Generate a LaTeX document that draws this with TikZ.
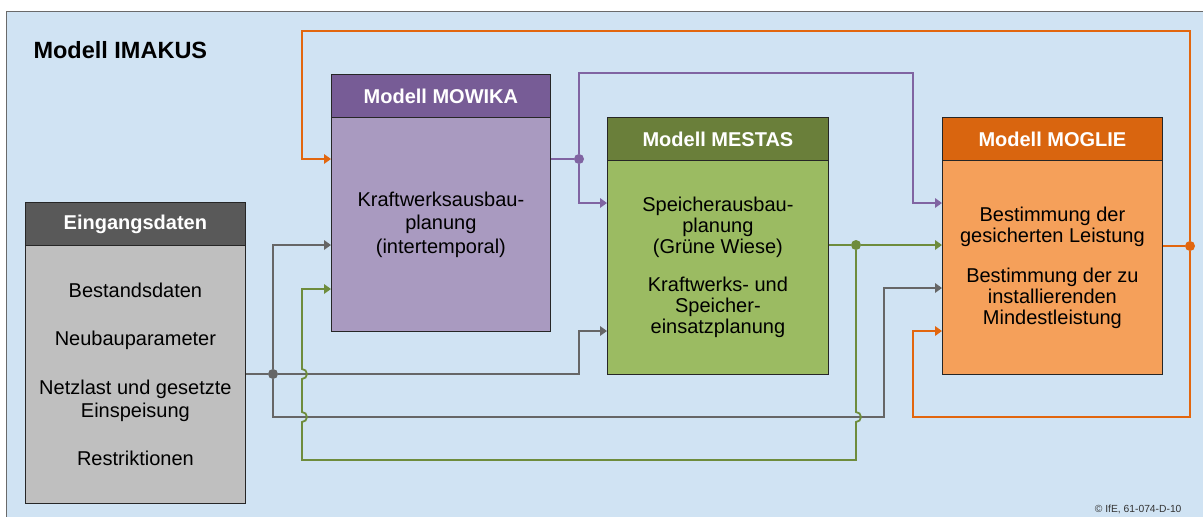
\documentclass[tikz,border=0pt]{standalone}
\usepackage{fontspec}
\setmainfont{Liberation Sans}
\usetikzlibrary{arrows.meta}
\definecolor{bg}{HTML}{D0E3F3}
\definecolor{frame}{HTML}{6A6A6A}
\definecolor{gyH}{HTML}{595959}
\definecolor{gyB}{HTML}{BFBFBF}
\definecolor{puH}{HTML}{775C96}
\definecolor{puB}{HTML}{A99AC0}
\definecolor{grH}{HTML}{6A7F3A}
\definecolor{grB}{HTML}{9BBB62}
\definecolor{orH}{HTML}{D9650F}
\definecolor{orB}{HTML}{F5A05A}
\definecolor{lOr}{HTML}{E2660E}
\definecolor{lPu}{HTML}{8064A2}
\definecolor{lGr}{HTML}{6E8C3C}
\definecolor{lGy}{HTML}{666666}
\begin{document}
\begin{tikzpicture}[x=1pt,y=-1pt,
  hdr/.style={draw=black!85, line width=0.8pt, anchor=north west, inner sep=0pt,
    text=white, font=\fontsize{20}{24}\bfseries\selectfont},
  bodybox/.style={draw=black!85, line width=0.8pt, anchor=north west, inner sep=0pt,
    align=center, text=black},
  ln/.style={line width=1.8pt},
  lnOr/.style={ln, draw=lOr},
  lnPu/.style={ln, draw=lPu},
  lnGr/.style={ln, draw=lGr},
  lnGy/.style={ln, draw=lGy},
  arr/.style={-{Triangle[length=7pt,width=9.5pt]}},
  jdot/.style={circle, inner sep=0pt, minimum size=10pt}
]
\useasboundingbox (0,0) rectangle (1203,517);
\clip (0,0) rectangle (1203,517);
\fill[white] (0,0) rectangle (1203,517);
\draw[fill=bg, draw=frame, line width=1pt] (6,11) rectangle (1230,540);

\node[anchor=west, font=\fontsize{23.5}{28}\bfseries\selectfont] (title) at (30,50) {Modell IMAKUS};
\node[anchor=east, text=black!80, font=\fontsize{10.3}{12}\selectfont] (copy) at (1185,509) {© IfE, 61-074-D-10};

% Eingangsdaten
\node[hdr, fill=gyH, minimum width=220pt, minimum height=43pt] (eingH) at (25,202) {Eingangsdaten};
\node[bodybox, fill=gyB, minimum width=220pt, minimum height=258pt,
  font=\fontsize{20}{23}\selectfont] (eingB) at (25,245)
  {Bestandsdaten\\[25pt]Neubauparameter\\[26pt]Netzlast und gesetzte\\Einspeisung\\[25pt]Restriktionen};

% MOWIKA
\node[hdr, fill=puH, minimum width=219pt, minimum height=43pt] (mowikaH) at (331,74) {Modell MOWIKA};
\node[bodybox, fill=puB, minimum width=219pt, minimum height=214pt,
  font=\fontsize{20}{23.5}\selectfont] (mowikaB) at (331,117)
  {Kraftwerksausbau-\\planung\\(intertemporal)};

% MESTAS
\node[hdr, fill=grH, minimum width=221pt, minimum height=43pt] (mestasH) at (607,117) {Modell MESTAS};
\node[bodybox, fill=grB, minimum width=221pt, minimum height=214pt,
  font=\fontsize{20}{21}\selectfont] (mestasB) at (607,160)
  {Speicherausbau-\\planung\\(Grüne Wiese)\\[17pt]Kraftwerks- und\\Speicher-\\einsatzplanung};

% MOGLIE
\node[hdr, fill=orH, minimum width=220pt, minimum height=43pt] (moglieH) at (942,117) {Modell MOGLIE};
\node[bodybox, fill=orB, minimum width=220pt, minimum height=214pt,
  font=\fontsize{20}{21}\selectfont] (moglieB) at (942,160)
  {Bestimmung der\\gesicherten Leistung\\[19pt]Bestimmung der zu\\installierenden\\Mindestleistung};

% junction dots
\node[jdot, fill=lOr] (dOr) at (1190,246) {};
\node[jdot, fill=lPu] (dPu) at (579,159) {};
\node[jdot, fill=lGr] (dGr) at (856,245) {};
\node[jdot, fill=lGy] (dGy) at (273,374) {};

% gray connectors
\draw[lnGy] (eingB.east |- dGy) -- (dGy);
\draw[lnGy, arr] (dGy) -- (273,245) -- (mowikaB.west |- 273,245);
\draw[lnGy, arr] (dGy) -- (579,374) -- (579,331) -- (mestasB.west |- 579,331);
\draw[lnGy, arr] (dGy) -- (273,417) -- (884,417) -- (884,288) -- (moglieB.west |- 884,288);

% purple connectors
\draw[lnPu] (mowikaB.east |- dPu) -- (dPu);
\draw[lnPu, arr] (dPu) -- (579,203) -- (mestasB.west |- 579,203);
\draw[lnPu, arr] (dPu) -- (579,73) -- (913,73) -- (913,203) -- (moglieB.west |- 913,203);

% green connectors
\draw[lnGr] (mestasB.east |- dGr) -- (dGr);
\draw[lnGr, arr] (dGr) -- (moglieB.west |- dGr);
\draw[lnGr, arr] (dGr) -- (856,412) arc[start angle=90, end angle=-90, radius=5pt]
  -- (856,460) -- (302,460) -- (302,422) arc[start angle=-90, end angle=90, radius=5pt]
  -- (302,379) arc[start angle=-90, end angle=90, radius=5pt]
  -- (302,289) -- (mowikaB.west |- 302,289);

% orange connectors
\draw[lnOr] (moglieB.east |- dOr) -- (dOr);
\draw[lnOr, arr] (dOr) -- (1190,31) -- (302,31) -- (302,159) -- (mowikaB.west |- 302,159);
\draw[lnOr, arr] (dOr) -- (1190,417) -- (913,417) -- (913,331) -- (moglieB.west |- 913,331);
\end{tikzpicture}
\end{document}
